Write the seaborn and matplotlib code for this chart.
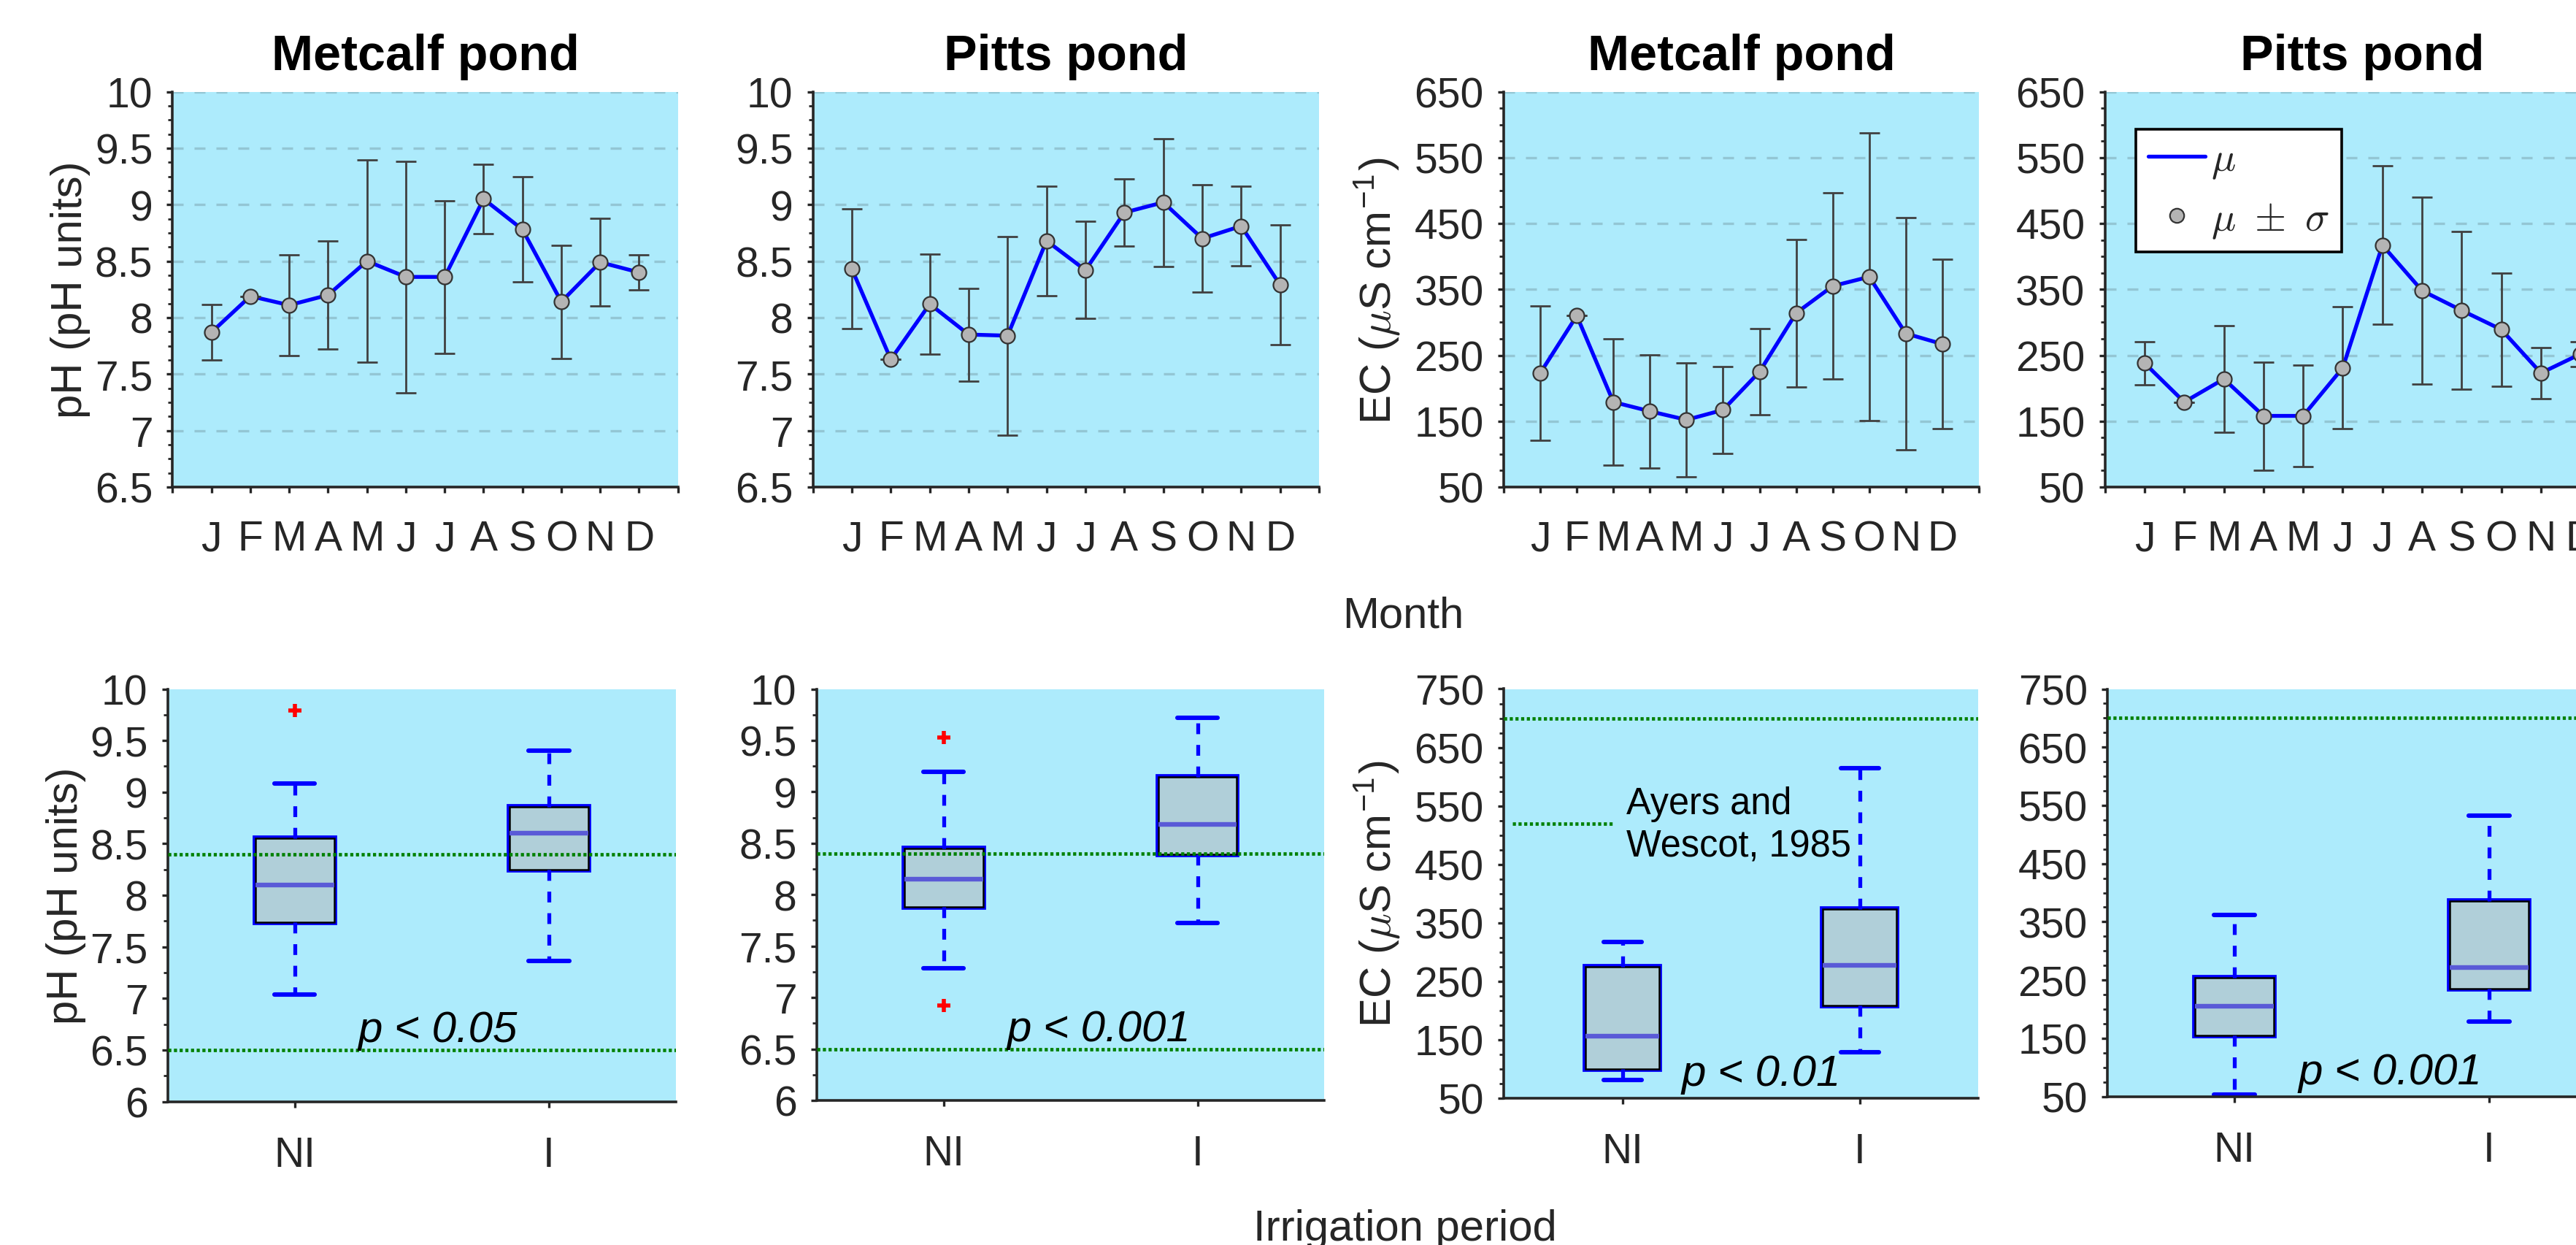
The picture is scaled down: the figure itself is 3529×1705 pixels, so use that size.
import numpy as np
import pandas as pd
import matplotlib
matplotlib.use("Agg")
import matplotlib.pyplot as plt
import seaborn as sns
from matplotlib.lines import Line2D
import matplotlib.patheffects as pe
from matplotlib.ticker import MultipleLocator, FixedLocator, FuncFormatter

# ---------------- data ----------------
months = ['J', 'F', 'M', 'A', 'M', 'J', 'J', 'A', 'S', 'O', 'N', 'D']
pond_titles = ['Metcalf pond', 'Pitts pond', 'Metcalf pond', 'Pitts pond']

metcalf_ph_mean = [7.87, 8.19, 8.11, 8.20, 8.50, 8.36, 8.36, 9.05, 8.78, 8.14, 8.49, 8.40]
metcalf_ph_sd = [0.245, 0.0, 0.445, 0.48, 0.893, 1.024, 0.674, 0.305, 0.465, 0.50, 0.39, 0.153]
pitts_ph_mean = [8.43, 7.63, 8.12, 7.85, 7.84, 8.68, 8.42, 8.93, 9.02, 8.70, 8.81, 8.29]
pitts_ph_sd = [0.53, 0.0, 0.445, 0.41, 0.88, 0.485, 0.43, 0.30, 0.565, 0.477, 0.35, 0.53]
metcalf_ec_mean = [223, 310, 179, 165, 152, 167, 225, 314, 355, 369, 283, 267]
metcalf_ec_sd = [102, 0, 96, 86, 86, 65.5, 65.5, 112, 141, 218, 176, 128.5]
pitts_ec_mean = [238, 179, 214, 158, 158, 231, 417, 348, 318, 289, 223, 252]
pitts_ec_sd = [33, 0, 81, 82, 76.5, 92.4, 120, 142, 119.5, 85.6, 39, 19]

groups = ['NI', 'I']
metcalf_ph_whislo = [7.04, 7.36]
metcalf_ph_q1 = [7.74, 8.245]
metcalf_ph_med = [8.10, 8.60]
metcalf_ph_q3 = [8.555, 8.86]
metcalf_ph_whishi = [9.085, 9.40]
metcalf_ph_fliers = [[9.79], []]

pitts_ph_whislo = [7.287, 7.725]
pitts_ph_q1 = [7.88, 8.39]
pitts_ph_med = [8.15, 8.68]
pitts_ph_q3 = [8.45, 9.147]
pitts_ph_whishi = [9.194, 9.721]
pitts_ph_fliers = [[9.53, 6.92], []]

metcalf_ec_whislo = [80.6, 128.3]
metcalf_ec_q1 = [99.7, 208.1]
metcalf_ec_med = [156.3, 277.6]
metcalf_ec_q3 = [274.9, 373.7]
metcalf_ec_whishi = [317.8, 614.4]
metcalf_ec_fliers = [[], []]

pitts_ec_whislo = [53.4, 178.8]
pitts_ec_q1 = [154.8, 234.9]
pitts_ec_med = [205.5, 271.9]
pitts_ec_q3 = [253.4, 385.6]
pitts_ec_whishi = [361.6, 532.9]
pitts_ec_fliers = [[], []]

ph_limits = [6.5, 8.4]
ec_limit = 700
ec_ref = 520
p_labels = ['p < 0.05', 'p < 0.001', 'p < 0.01', 'p < 0.001']

ph_top_ticks = [6.5, 7, 7.5, 8, 8.5, 9, 9.5, 10]
ec_top_ticks = [50, 150, 250, 350, 450, 550, 650]
ph_bot_ticks = [6, 6.5, 7, 7.5, 8, 8.5, 9, 9.5, 10]
ec_bot_ticks = [50, 150, 250, 350, 450, 550, 650, 750]

# ---------------- style ----------------
sns.set_style('ticks')
plt.rcParams['font.family'] = ['Liberation Sans', 'DejaVu Sans']
plt.rcParams['mathtext.fontset'] = 'cm'
plt.rcParams['axes.unicode_minus'] = False

W, H = 3530, 1706
DPI = 200
fig = plt.figure(figsize=(W / DPI, H / DPI), dpi=DPI)
fig.patch.set_facecolor('white')

BG = '#ADEBFC'
AX_C = '#262626'
TICK_FS = 20.5
LABEL_FS = 21.6


def px_axes(x0, x1, y0, y1):
    return fig.add_axes([x0 / W, 1 - y1 / H, (x1 - x0) / W, (y1 - y0) / H])


def style_axes(ax, xpad):
    ax.set_facecolor(BG)
    for s in ['top', 'right']:
        ax.spines[s].set_visible(False)
    for s in ['left', 'bottom']:
        ax.spines[s].set_color(AX_C)
        ax.spines[s].set_linewidth(1.3)
    ax.tick_params(axis='both', which='major', direction='out', length=2.8,
                   width=1.2, color=AX_C, labelcolor=AX_C, labelsize=TICK_FS)
    ax.tick_params(axis='y', which='major', pad=7.0)
    ax.tick_params(axis='x', which='major', pad=xpad)
    ax.tick_params(axis='y', which='minor', direction='out', length=2.0,
                   width=1.0, color=AX_C)


def set_yaxis(ax, lo, hi, ticks, minor_step):
    ax.set_ylim(lo, hi)
    ax.yaxis.set_major_locator(FixedLocator(ticks))
    ax.yaxis.set_minor_locator(MultipleLocator(minor_step))
    ax.yaxis.set_major_formatter(FuncFormatter(lambda v, p: f'{v:g}'))


def fig_xy(x, y):
    return x / W, 1 - y / H


# ---------------- top row ----------------
top_pos = [(236.5, 928.7), (1113.7, 1807.0), (2060.0, 2711.0), (2883.7, 3589.6)]
top_means = [metcalf_ph_mean, pitts_ph_mean, metcalf_ec_mean, pitts_ec_mean]
top_sds = [metcalf_ph_sd, pitts_ph_sd, metcalf_ec_sd, pitts_ec_sd]
xpos = np.arange(1, len(months) + 1)

for i in range(4):
    ax = px_axes(top_pos[i][0], top_pos[i][1], 126.5, 668.0)
    style_axes(ax, xpad=13.2)
    df = pd.DataFrame({'m': xpos, 'v': top_means[i]})
    sns.lineplot(data=df, x='m', y='v', ax=ax, color='#0000FF', lw=1.9,
                 zorder=3, legend=False)
    ax.errorbar(xpos, top_means[i], yerr=top_sds[i], fmt='none',
                ecolor='#404040', elinewidth=1.0, capsize=5, capthick=1.0,
                zorder=4)
    sns.scatterplot(data=df, x='m', y='v', ax=ax, s=52, color='#B4B4B4',
                    edgecolor='#333333', linewidth=0.8, zorder=5, legend=False)
    ax.set_xlim(0, 13)
    ax.set_xticks(range(0, 14))
    ax.set_xticklabels([''] + months + [''])
    if i < 2:
        set_yaxis(ax, 6.5, 10, ph_top_ticks, 0.125)
    else:
        set_yaxis(ax, 50, 650, ec_top_ticks, 25)
    ax.yaxis.grid(True, which='major', color='#93C6D4', lw=1.2,
                  linestyle=(0, (4.5, 4.5)))
    ax.xaxis.grid(False)
    ax.set_axisbelow(True)
    ax.set_xlabel('')
    ax.set_ylabel('')
    ax.set_title(pond_titles[i], fontsize=24.6, fontweight='bold', color='black',
                 pad=11.0)
    if i == 3:
        handles = [Line2D([], [], color='#0000FF', lw=1.9),
                   Line2D([], [], linestyle='none', marker='o', markersize=7,
                          markerfacecolor='#B4B4B4', markeredgecolor='#333333',
                          markeredgewidth=0.8)]
        leg = ax.legend(handles, [r'$\mu$', r'$\mu\ \pm\ \sigma$'],
                        loc='upper left', bbox_to_anchor=fig_xy(2926.4, 177.5),
                        bbox_transform=fig.transFigure, borderaxespad=0,
                        fontsize=20, handlelength=1.4, handletextpad=0.15,
                        labelspacing=0.5, borderpad=0.3, fancybox=False,
                        framealpha=1, edgecolor='black', facecolor='white')
        leg.get_frame().set_linewidth(1.3)

# ---------------- bottom row ----------------
bot_pos = [(229.6, 925.8, 1509.5), (1118.6, 1814.5, 1508.0),
           (2060.0, 2710.5, 1505.0), (2887.0, 3584.0, 1502.5)]
bot_stats = [
    (metcalf_ph_whislo, metcalf_ph_q1, metcalf_ph_med, metcalf_ph_q3, metcalf_ph_whishi, metcalf_ph_fliers),
    (pitts_ph_whislo, pitts_ph_q1, pitts_ph_med, pitts_ph_q3, pitts_ph_whishi, pitts_ph_fliers),
    (metcalf_ec_whislo, metcalf_ec_q1, metcalf_ec_med, metcalf_ec_q3, metcalf_ec_whishi, metcalf_ec_fliers),
    (pitts_ec_whislo, pitts_ec_q1, pitts_ec_med, pitts_ec_q3, pitts_ec_whishi, pitts_ec_fliers),
]

for i in range(4):
    x0, x1, yb = bot_pos[i]
    ax = px_axes(x0, x1, 944.5, yb)
    style_axes(ax, xpad=13.8)
    wl, q1, md, q3, wh, fl = bot_stats[i]
    stats = [dict(whislo=wl[k], q1=q1[k], med=md[k], q3=q3[k], whishi=wh[k],
                  fliers=fl[k]) for k in range(len(groups))]
    art = ax.bxp(stats, positions=[1, 2], widths=0.31, capwidths=0.16,
                 patch_artist=True, manage_ticks=False,
                 boxprops=dict(facecolor='#B0CFD9', edgecolor='black', linewidth=0.9),
                 medianprops=dict(color='#5A5AD7', linewidth=2.3),
                 whiskerprops=dict(color='#0000FF', linewidth=1.9, linestyle=(0, (2.8, 2.8))),
                 capprops=dict(color='#0000FF', linewidth=2.2),
                 flierprops=dict(marker='+', markeredgecolor='red', markersize=6.5,
                                 markeredgewidth=2.0, linestyle='none'))
    for b in art['boxes']:
        b.set_path_effects([pe.Stroke(linewidth=2.8, foreground='#0000FF'), pe.Normal()])
    ax.set_xlim(0.5, 2.5)
    ax.set_xticks([1, 2])
    ax.set_xticklabels(groups)
    if i < 2:
        set_yaxis(ax, 6, 10, ph_bot_ticks, 0.25)
        for lim in ph_limits:
            ax.axhline(lim, color='#008000', lw=1.7, linestyle=(0, (0.9, 0.75)), zorder=6)
        ax.text(1.25, 6.585, p_labels[i], fontsize=21.6, fontstyle='italic',
                color='black', ha='left', va='baseline', zorder=7)
    else:
        set_yaxis(ax, 50, 750, ec_bot_ticks, 25)
        ax.axhline(ec_limit, color='#008000', lw=1.7, linestyle=(0, (0.9, 0.75)), zorder=6)
        ax.text(1.25, 72, p_labels[i], fontsize=21.6, fontstyle='italic',
                color='black', ha='left', va='baseline', zorder=7)
        if i == 2:
            ax.plot([0.537, 0.964], [ec_ref, ec_ref], color='#008000', lw=1.7,
                    linestyle=(0, (0.9, 0.75)), zorder=6)
            ax.text(1.016, 518, 'Ayers and\nWescot, 1985', fontsize=18.2,
                    color='black', ha='left', va='center', linespacing=1.25,
                    zorder=7)
    ax.grid(False)

# ---------------- labels ----------------
ph_label = 'pH (pH units)'
ec_label = r'EC ($\mu$S cm$^{\mathregular{-1}}$)'
for (x, y, s) in [(112, 397, ph_label), (106, 1227, ph_label),
                  (1906, 398, ec_label), (1906, 1224.7, ec_label)]:
    fx, fy = fig_xy(x, y)
    fig.text(fx, fy, s, rotation=90, rotation_mode='anchor', ha='center',
             va='baseline', fontsize=LABEL_FS, color=AX_C)

fx, fy = fig_xy(1922, 859)
fig.text(fx, fy, 'Month', ha='center', va='baseline', fontsize=LABEL_FS, color=AX_C)
fx, fy = fig_xy(1925, 1699)
fig.text(fx, fy, 'Irrigation period', ha='center', va='baseline', fontsize=LABEL_FS,
         color=AX_C)

fig.savefig('out.png', dpi=DPI, facecolor='white')
